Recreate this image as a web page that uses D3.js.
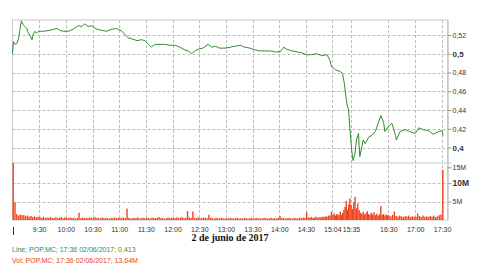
<!DOCTYPE html>
<html>
<head>
<meta charset="utf-8">
<script src="https://cdn.jsdelivr.net/npm/d3@7"></script>
<style>
  body { margin: 0; background: #fff; }
  svg { display: block; font-family: "Liberation Sans", Arial, sans-serif; }
</style>
</head>
<body>
<svg id="chart" width="480" height="270"></svg>
<script>
// price samples (time, price)
const priceTimes = ["9:00","9:01","9:03","9:05","9:07","9:08","9:10","9:12","9:14","9:16","9:18","9:20","9:22","9:23","9:25","9:27","9:29",
  "9:35","9:42","9:50","9:53","9:57","10:03","10:08","10:14","10:18","10:21","10:25","10:29","10:33","10:36","10:40","10:46","10:51","10:57",
  "11:03","11:07","11:10","11:14","11:20","11:25","11:29","11:33","11:36","11:40","11:46","11:51","11:57","12:03","12:08","12:14","12:18",
  "12:21","12:25","12:29","12:34","12:40","12:44","12:48","12:53","12:59","13:05","13:10","13:16","13:21","13:27","13:33","13:38","13:44",
  "13:50","13:55","14:01","14:05","14:08","14:14","14:20","14:25","14:31","14:37","14:44","14:50","14:57","15:01","15:03","15:09","15:17",
  "15:21","15:24","15:28","15:31","15:33","15:36","15:38","15:41","15:43","15:46","15:48","15:51","15:53","15:56","16:01","16:06","16:11",
  "16:15","16:19","16:23","16:25","16:30","16:34","16:38","16:39","16:43","16:49","16:54","17:00","17:04","17:09","17:15","17:20","17:26",
  "17:30","17:31"];
const priceValues = [0.500,0.513,0.510,0.511,0.517,0.524,0.535,0.531,0.529,0.527,0.522,0.519,0.515,0.520,0.524,0.522,0.524,
  0.524,0.525,0.527,0.525,0.524,0.524,0.526,0.530,0.529,0.532,0.529,0.530,0.527,0.526,0.525,0.524,0.526,0.527,
  0.524,0.520,0.517,0.516,0.514,0.515,0.514,0.510,0.507,0.510,0.510,0.510,0.509,0.509,0.507,0.504,0.503,
  0.500,0.503,0.505,0.506,0.510,0.507,0.508,0.506,0.506,0.507,0.508,0.509,0.507,0.506,0.504,0.503,0.503,
  0.503,0.502,0.502,0.507,0.505,0.503,0.502,0.501,0.499,0.499,0.500,0.498,0.499,0.493,0.486,0.483,0.481,
  0.479,0.468,0.447,0.440,0.422,0.397,0.386,0.394,0.408,0.415,0.390,0.401,0.408,0.404,0.411,0.413,0.417,
  0.426,0.434,0.427,0.417,0.422,0.426,0.413,0.408,0.417,0.419,0.417,0.415,0.421,0.419,0.418,0.414,0.417,
  0.418,0.413];

// volume (millions), one value every 2 minutes from 9:00, rows are half hours
const volStart = "9:00";
const volValues = [
  15.6,4.8,1.6,1.2,1.5,1.3,1.4,1.0,1.2,0.9,1.1,0.8,1.0,0.7,0.9,
  0.8,0.6,0.9,0.5,0.7,0.6,0.8,0.5,0.6,0.7,0.5,0.6,0.8,0.5,0.7,
  0.6,0.5,0.7,0.5,0.6,0.4,0.6,2.0,0.5,0.7,0.5,0.6,0.5,0.7,0.6,
  0.5,0.8,0.5,0.6,0.4,0.7,0.5,0.6,0.5,0.4,0.6,0.5,0.7,0.5,0.6,
  0.6,0.5,0.7,0.5,3.1,0.6,0.4,0.5,0.6,0.5,0.7,0.4,0.5,0.6,0.5,
  0.5,0.6,0.4,0.7,0.5,0.6,0.5,0.8,0.5,0.6,0.4,0.5,0.7,0.5,0.6,
  0.6,0.5,0.7,0.5,0.6,0.8,0.5,0.6,2.4,0.7,0.6,2.3,0.6,0.5,0.7,
  0.6,0.5,0.7,0.6,0.5,1.4,0.6,0.5,0.4,0.6,0.5,0.4,0.6,0.5,0.4,
  0.5,0.4,0.6,0.5,0.4,0.5,0.6,0.4,0.5,0.4,0.6,0.5,0.4,0.5,0.6,
  0.4,0.5,0.6,0.4,0.5,0.4,0.6,0.5,0.4,0.5,0.6,0.4,0.5,0.4,0.6,
  1.1,0.5,0.6,0.4,0.5,0.6,0.5,0.4,0.6,0.5,0.4,0.6,0.5,0.7,0.6,
  2.1,0.7,0.6,0.8,0.6,0.7,0.9,0.6,0.8,0.7,0.9,0.8,1.0,0.9,1.2,
  1.2,2.2,1.4,1.8,1.2,1.5,1.6,1.3,2.3,1.4,1.9,2.7,3.6,5.2,2.8,
  4.2,5.9,4.1,3.0,4.8,6.3,3.2,4.5,2.7,2.0,1.6,2.2,1.5,1.8,2.4,
  1.6,1.4,2.0,1.5,2.1,1.3,1.7,1.2,1.5,3.8,1.4,1.6,1.2,1.5,1.3,
  1.2,1.0,1.4,2.3,1.1,0.9,1.2,1.0,0.8,1.1,0.9,1.2,0.8,1.0,0.9,
  0.9,1.8,1.1,0.8,1.2,0.9,1.0,0.8,1.1,0.9,1.2,0.8,1.0,1.3,1.5,
  13.64];

const xTickLabels = ["9:30","10:00","10:30","11:00","11:30","12:00","12:30","13:00","13:30","14:00","14:30","15:04","15:35","16:30","17:00","17:30"];
const priceTicks = [0.4,0.42,0.44,0.46,0.48,0.5,0.52];
const priceTickLabels = ["0,4","0,42","0,44","0,46","0,48","0,5","0,52"];
const volTicks = [5,10,15];
const volTickLabels = ["5M","10M","15M"];
const dateLabel = "2 de junio de 2017";
const legendLine = "Line; POP.MC; 17:36 02/06/2017; 0,413";
const legendVol = "Vol; POP.MC; 17:36 02/06/2017; 13,64M";

const toMin = s => { const p = s.split(":"); return (+p[0] - 9) * 60 + (+p[1]); };

const svg = d3.select("#chart");
const L = 12.5, R = 447.5, T = 20, MID = 163, B = 220;

// the time axis is compressed around the 15:04-15:35 halt, so piecewise
const x = d3.scaleLinear()
  .domain([0, 330, 364, 395, 450, 516])
  .range([L, 306, 332.3, 351, 388.3, R]);
const y = d3.scaleLinear().domain([0.4, 0.52]).range([147.5, 35]);
const yv = d3.scaleLinear().domain([0, 15]).range([B, 164.8]);

const grid = svg.append("g").attr("stroke", "#bdbdbd").attr("stroke-dasharray", "3,2").attr("stroke-width", 1);
xTickLabels.forEach(t => {
  const xx = Math.round(x(toMin(t))) + 0.5;
  grid.append("line").attr("x1", xx).attr("x2", xx).attr("y1", T).attr("y2", B);
});
priceTicks.forEach(v => {
  const yy = Math.round(y(v)) + 0.5;
  grid.append("line").attr("x1", L).attr("x2", R).attr("y1", yy).attr("y2", yy);
});
[5, 10].forEach(v => {
  const yy = Math.round(yv(v)) + 0.5;
  grid.append("line").attr("x1", L).attr("x2", R).attr("y1", yy).attr("y2", yy);
});

// frame
const frame = svg.append("g").attr("stroke", "#c8c8c8").attr("fill", "none");
frame.append("rect").attr("x", L).attr("y", T).attr("width", R - L).attr("height", B - T);
frame.append("line").attr("x1", L).attr("x2", R + 4).attr("y1", MID).attr("y2", MID);
frame.append("line").attr("x1", R + 0.5).attr("x2", R + 0.5).attr("y1", T).attr("y2", B).attr("stroke-width", 1.5);

// volume bars
const volData = volValues.map((v, i) => ({ t: toMin(volStart) + i * 2, v: v }));
svg.append("g").selectAll("rect").data(volData).enter().append("rect")
  .attr("x", d => x(d.t))
  .attr("width", 1.4)
  .attr("y", d => Math.max(MID, yv(d.v)))
  .attr("height", d => B - Math.max(MID, yv(d.v)))
  .attr("fill", "#f2431d");

// price line
const priceData = priceTimes.map((t, i) => ({ t: toMin(t), p: priceValues[i] }));
const line = d3.line().x(d => x(d.t)).y(d => y(d.p));
svg.append("path").datum(priceData)
  .attr("fill", "none")
  .attr("stroke", "#2f8f2f")
  .attr("stroke-width", 1)
  .attr("d", line);

// right axes
const ay = d3.axisRight(y).tickValues(priceTicks).tickSize(4).tickPadding(1)
  .tickFormat((d, i) => priceTickLabels[i]);
const gy = svg.append("g").attr("transform", "translate(" + R + ",0)").call(ay);
const av = d3.axisRight(yv).tickValues(volTicks).tickSize(4).tickPadding(1)
  .tickFormat((d, i) => volTickLabels[i]);
const gv = svg.append("g").attr("transform", "translate(" + R + ",0)").call(av);
[gy, gv].forEach(g => {
  g.select(".domain").remove();
  g.selectAll("line").attr("stroke", "#999");
  g.selectAll("text").attr("fill", "#333").style("font-size", "7px");
});
gy.selectAll("text").filter(d => d === 0.4 || d === 0.5).style("font-weight", "bold").style("font-size", "8px");
gv.selectAll("text").filter(d => d === 10).style("font-weight", "bold").style("font-size", "8.5px");
gv.selectAll(".tick").filter(d => d === 15).attr("transform", "translate(0," + (yv(15) + 3) + ")");

// bottom time axis
const ax = d3.axisBottom(x).tickValues(xTickLabels.map(toMin)).tickSize(0).tickPadding(7)
  .tickFormat((d, i) => xTickLabels[i]);
const gx = svg.append("g").attr("transform", "translate(0," + B + ")").call(ax);
gx.select(".domain").remove();
gx.selectAll("text").attr("fill", "#333").style("font-size", "7px");

// day start marker
svg.append("line").attr("x1", 13.5).attr("x2", 13.5).attr("y1", 227).attr("y2", 235)
  .attr("stroke", "#333");

svg.append("text").attr("x", 230).attr("y", 241).attr("text-anchor", "middle")
  .style("font-family", "'Liberation Serif', 'Times New Roman', serif")
  .style("font-weight", "bold").style("font-size", "10px").attr("fill", "#111")
  .text(dateLabel);

svg.append("text").attr("x", 12).attr("y", 252).style("font-size", "7px")
  .attr("fill", "#3a8a3a").text(legendLine);
svg.append("text").attr("x", 12).attr("y", 263).style("font-size", "7px")
  .attr("fill", "#e8401c").text(legendVol);
</script>
</body>
</html>
